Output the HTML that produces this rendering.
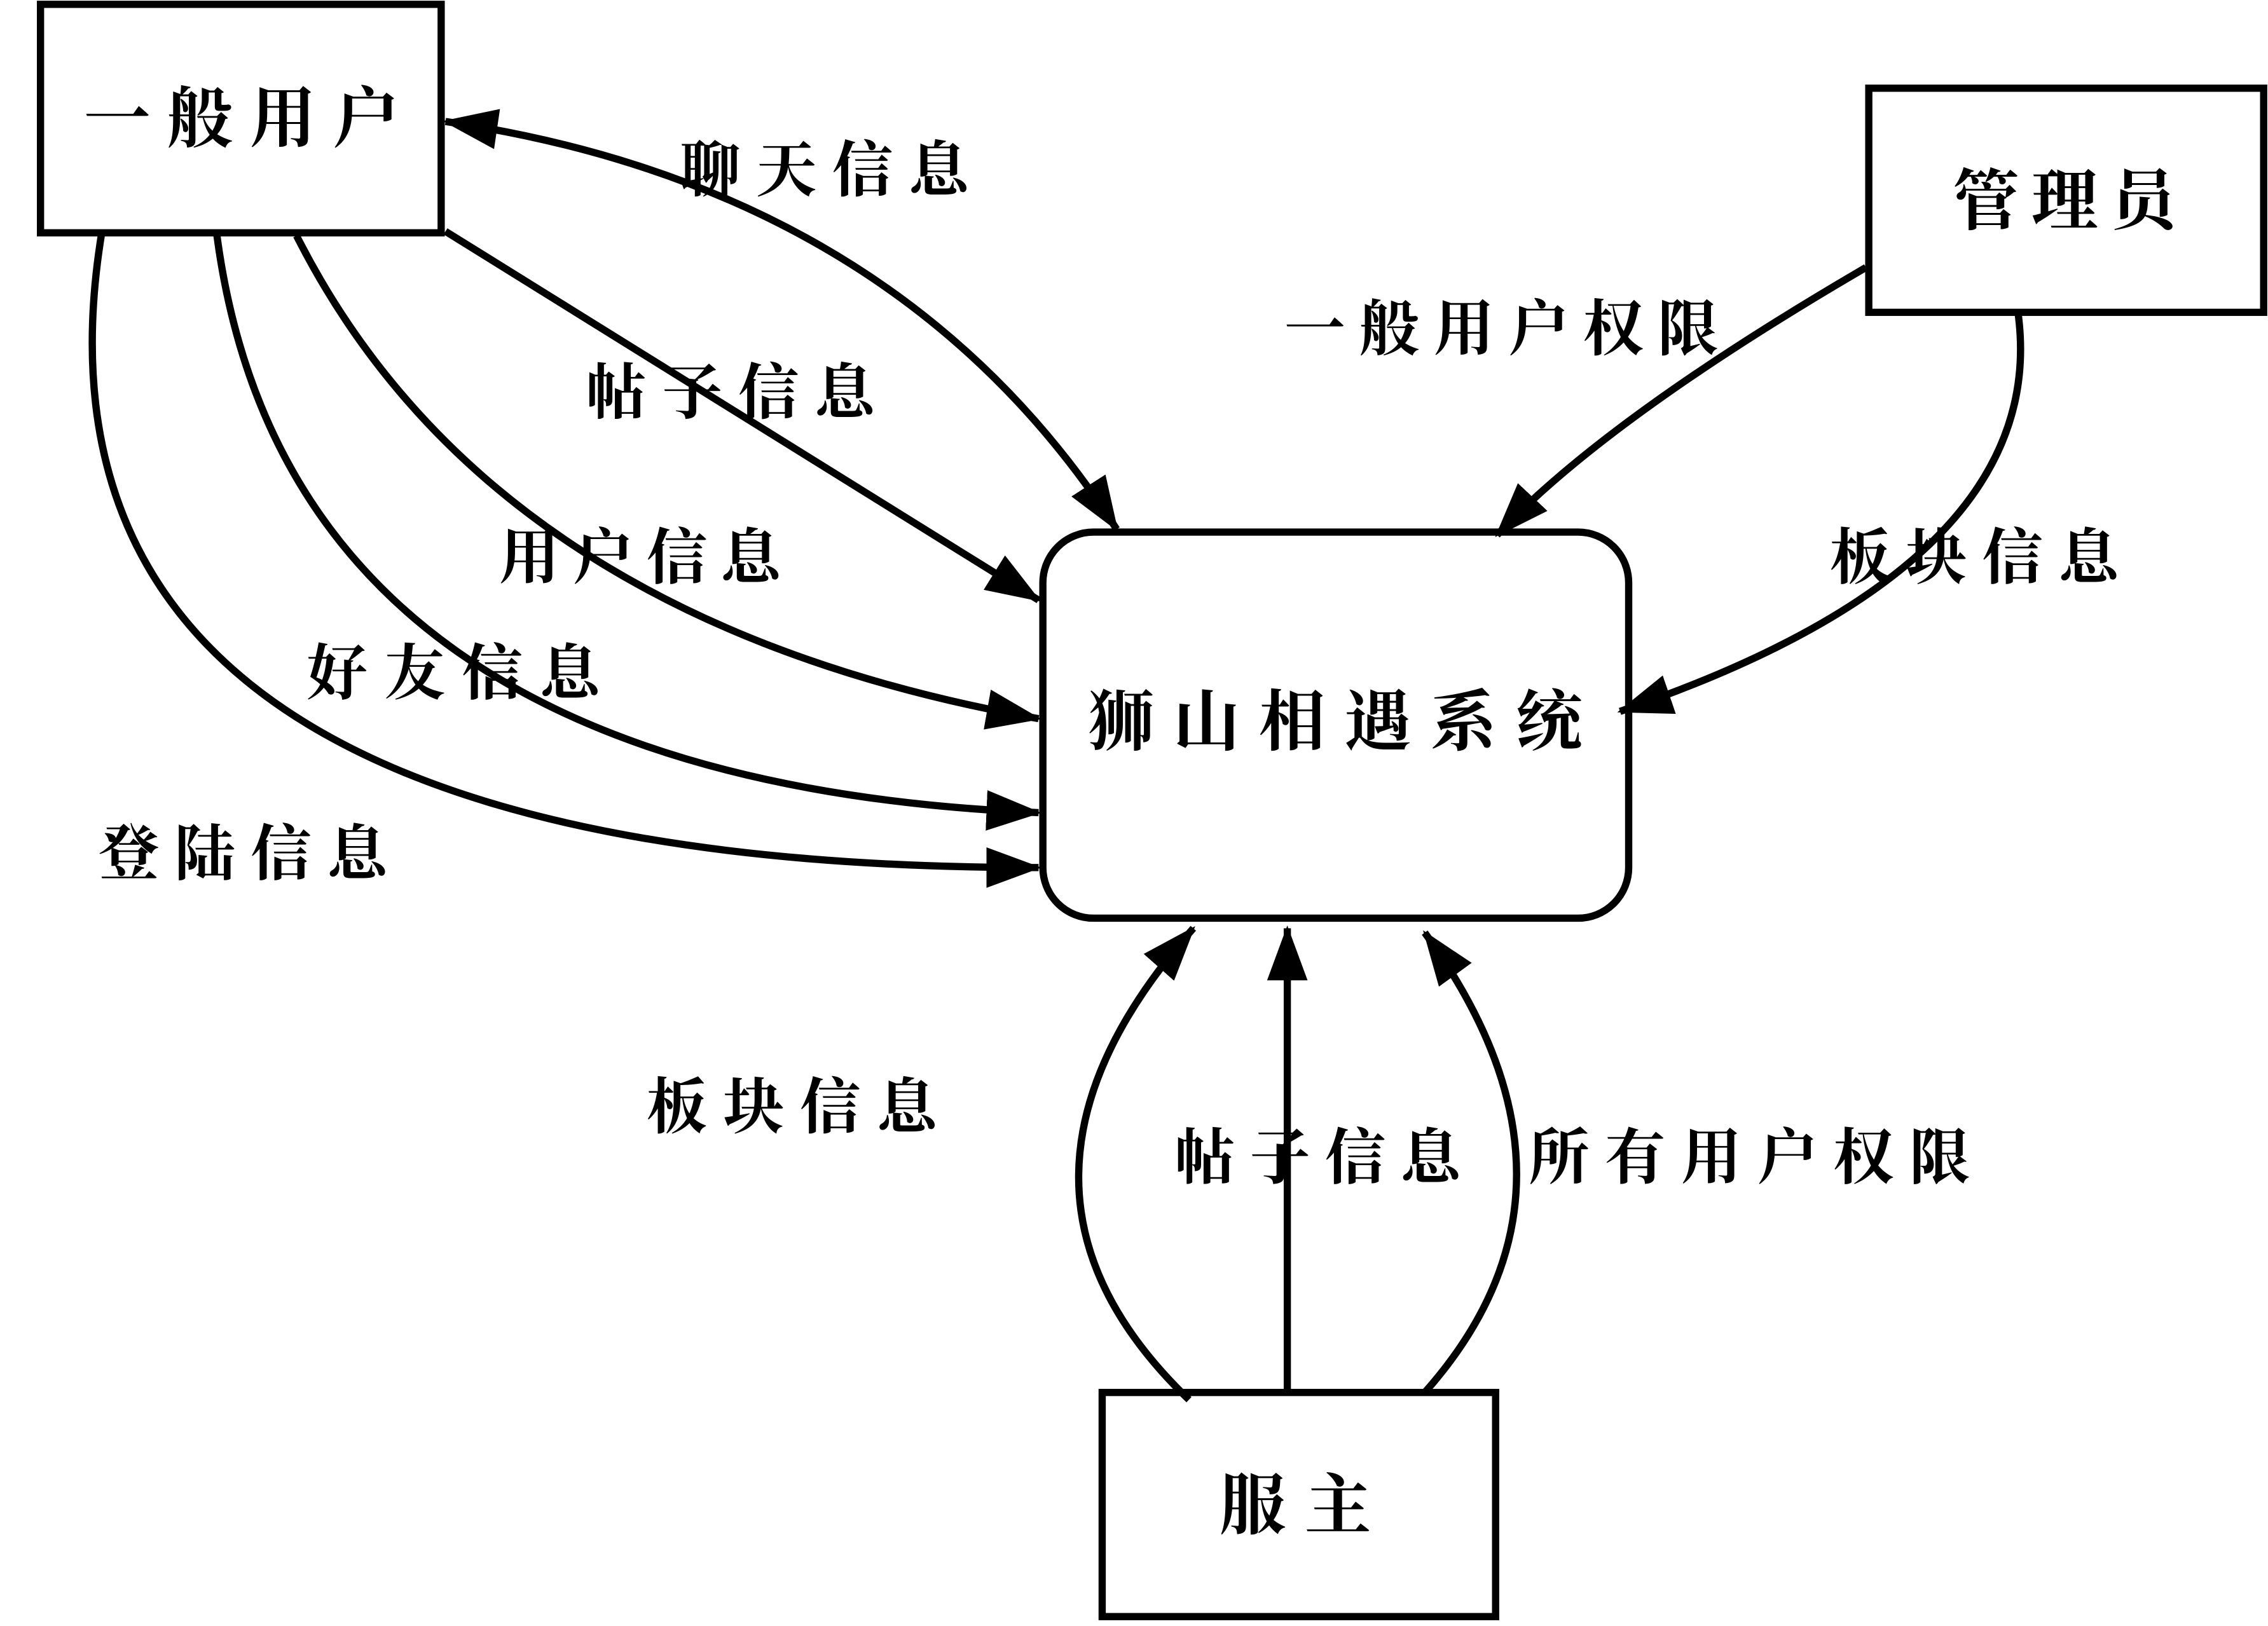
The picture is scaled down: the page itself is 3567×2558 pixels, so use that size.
<!DOCTYPE html>
<html><head><meta charset="utf-8">
<style>
html,body{margin:0;padding:0;background:#fff;}
svg{display:block;}
text{font-family:"Liberation Serif","Noto Serif CJK SC","Noto Sans CJK SC",serif;fill:#000;font-weight:bold;}
</style></head>
<body>
<svg width="3567" height="2558" viewBox="0 0 1568 1124.5" preserveAspectRatio="none" xmlns="http://www.w3.org/2000/svg">
<defs>
<marker id="a" markerUnits="userSpaceOnUse" markerWidth="40" markerHeight="30" refX="36" refY="14" orient="auto">
<path d="M0,0 L38,14 L0,28 Z" fill="#000"/>
</marker>
<marker id="s" markerUnits="userSpaceOnUse" markerWidth="40" markerHeight="30" refX="2" refY="14" orient="auto">
<path d="M38,0 L0,14 L38,28 Z" fill="#000"/>
</marker>
</defs>
<g fill="none" stroke="#000" stroke-width="5">
<rect x="28" y="3" width="277" height="158"/>
<rect x="1292" y="61" width="273" height="155"/>
<rect x="762" y="963" width="272" height="155"/>
<rect x="721" y="368" width="405" height="267" rx="35"/>

<path d="M308,84 Q620,130 772,366" marker-start="url(#s)" marker-end="url(#a)"/>
<path d="M308,160 L718,415" marker-end="url(#a)"/>
<path d="M205,163 Q340,430 718,497" marker-end="url(#a)"/>
<path d="M150,163 Q200,540 718,562" marker-end="url(#a)"/>
<path d="M70,163 Q0,600 718,600" marker-end="url(#a)"/>
<path d="M1290,185 Q1110,290 1035,370" marker-end="url(#a)"/>
<path d="M1395,215 Q1420,390 1120,492" marker-end="url(#a)"/>
<path d="M822,968 Q668,820 825,642" marker-end="url(#a)"/>
<path d="M890,963 L890,642" marker-end="url(#a)"/>
<path d="M985,963 Q1112,820 985,645" marker-end="url(#a)"/>
</g>
<g font-size="42">
<text x="58" y="98" textLength="218" lengthAdjust="spacing" font-size="46">一般用户</text>
<text x="1350" y="155" textLength="155" lengthAdjust="spacing" font-size="46">管理员</text>
<text x="843" y="1057" textLength="105" lengthAdjust="spacing" font-size="46">服主</text>
<text x="752" y="515" textLength="342" lengthAdjust="spacing" font-size="46">狮山相遇系统</text>

<text x="470" y="132" textLength="200" lengthAdjust="spacing">聊天信息</text>
<text x="405" y="286" textLength="200" lengthAdjust="spacing">帖子信息</text>
<text x="345" y="400" textLength="195" lengthAdjust="spacing">用户信息</text>
<text x="212" y="480" textLength="203" lengthAdjust="spacing">好友信息</text>
<text x="68" y="605" textLength="200" lengthAdjust="spacing">登陆信息</text>
<text x="888" y="242" textLength="300" lengthAdjust="spacing">一般用户权限</text>
<text x="1265" y="400" textLength="200" lengthAdjust="spacing">板块信息</text>
<text x="447" y="780" textLength="201" lengthAdjust="spacing">板块信息</text>
<text x="812" y="815" textLength="198" lengthAdjust="spacing">帖子信息</text>
<text x="1057" y="815" textLength="305" lengthAdjust="spacing">所有用户权限</text>
</g>
</svg>
</body></html>
